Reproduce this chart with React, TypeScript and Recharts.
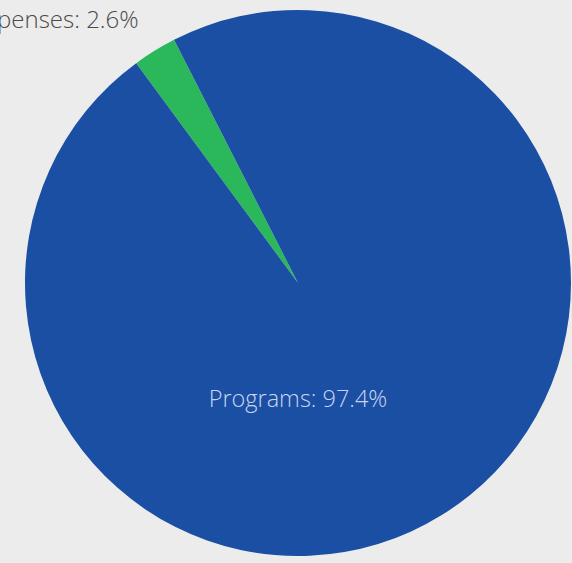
import { Pie, PieChart, Cell } from "recharts";

const categories = ["Expenses", "Programs"];
const shares = [2.6, 97.4];
const colors = ["#2bb85a", "#1a4fa3"];

const data = categories.map((name, i) => ({ name, value: shares[i] }));

const RADIAN = Math.PI / 180;

function renderLabel(props: any) {
  const { cx, cy, outerRadius, midAngle, index, name, value } = props;
  const text = `${name}: ${value}%`;
  if (index === 1) {
    // inside, below the centre
    return (
      <text x={cx} y={cy + outerRadius * 0.455} fill="#c9d5ee" textAnchor="middle"
        fontFamily="'Open Sans', sans-serif" fontWeight={300} fontSize={23.5}>
        {text}
      </text>
    );
  }
  const ex = cx + outerRadius * Math.cos(-midAngle * RADIAN);
  const ey = cy + outerRadius * Math.sin(-midAngle * RADIAN);
  return (
    <text x={ex - 16} y={ey - 23} fill="#4a4a4a" textAnchor="end"
      fontFamily="'Open Sans', sans-serif" fontWeight={300} fontSize={24}>
      {text}
    </text>
  );
}

export default function App() {
  return (
    <div style={{ position: "absolute", left: 0, top: 0, width: 572, height: 563, background: "#ececec", overflow: "hidden" }}>
      <PieChart width={572} height={563} style={{ overflow: "hidden" }}>
        <Pie
          data={data}
          dataKey="value"
          nameKey="name"
          cx={293}
          cy={278}
          outerRadius={273}
          startAngle={117}
          endAngle={477}
          stroke="none"
          label={renderLabel}
          labelLine={false}
          isAnimationActive={false}
        >
          {data.map((d, i) => (
            <Cell key={d.name} fill={colors[i]} />
          ))}
        </Pie>
      </PieChart>
    </div>
  );
}
